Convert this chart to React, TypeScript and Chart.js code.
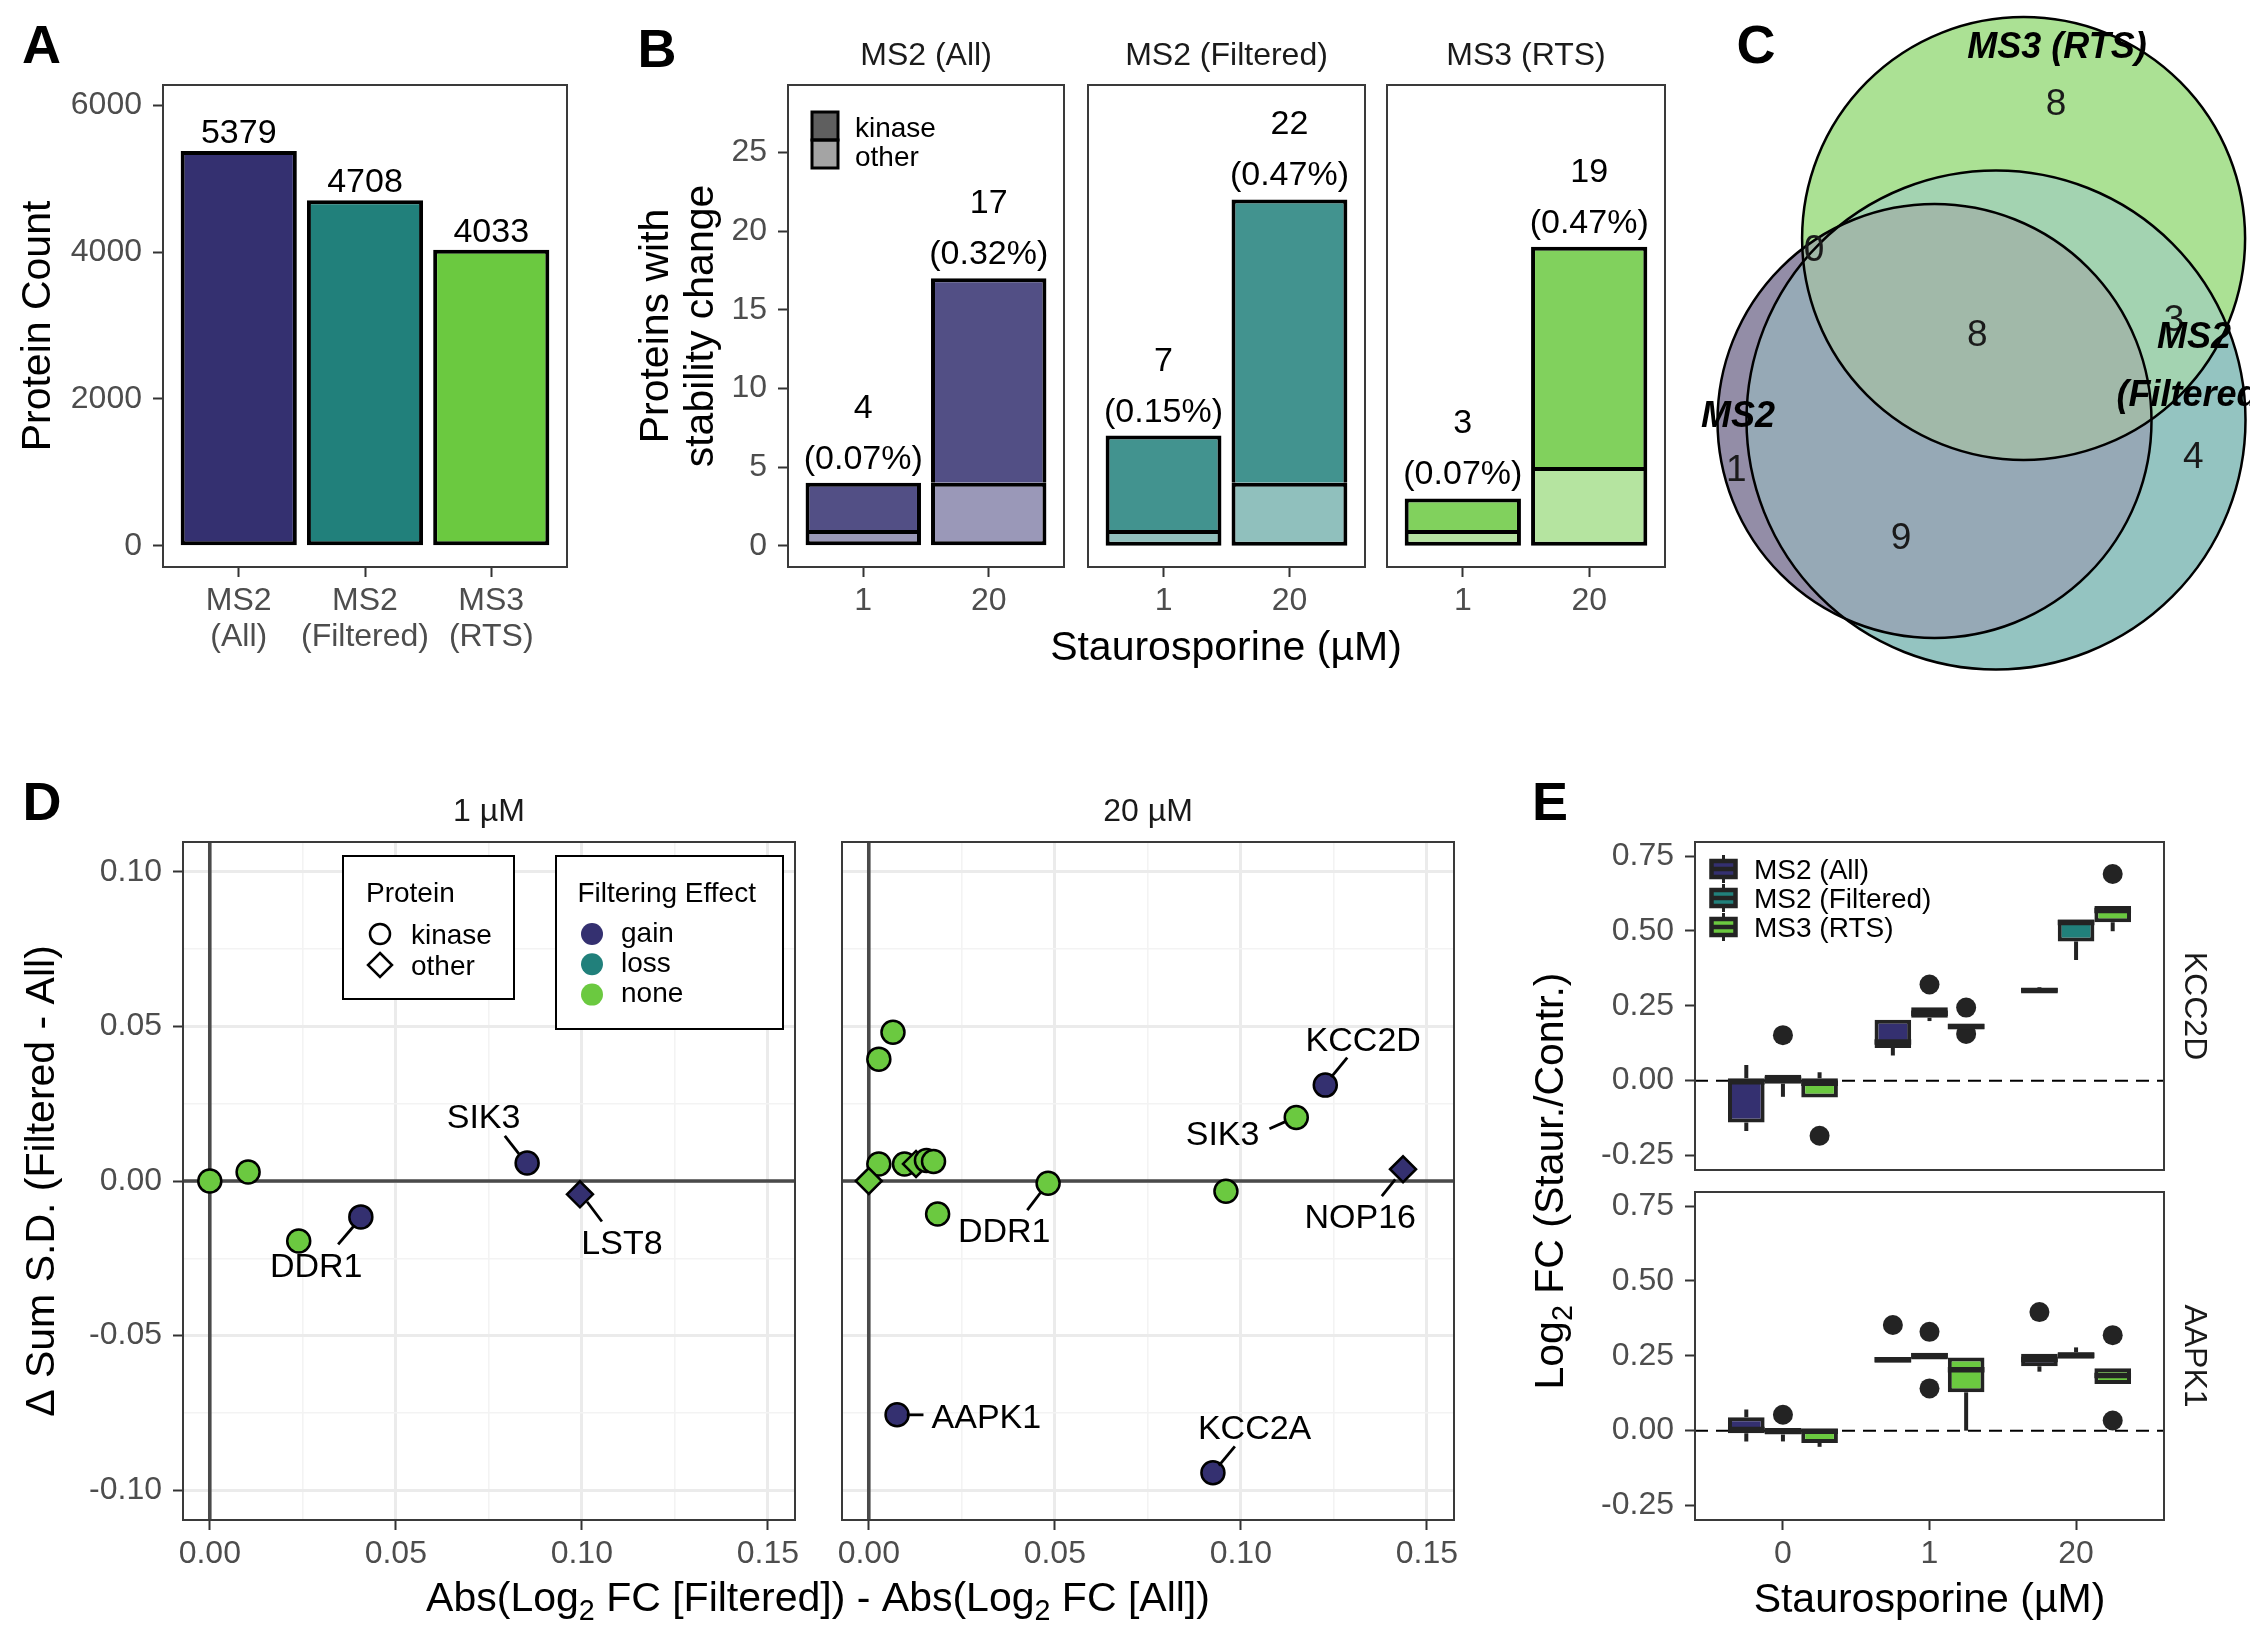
import { useEffect, useRef } from "react"
import { Chart, registerables } from "chart.js"

Chart.register(...registerables)

const FONT = "'Liberation Sans', Arial, Helvetica, sans-serif"
Chart.defaults.font.family = FONT
Chart.defaults.color = "#4d4d4d"

// colours per acquisition method (also used for gain / loss / none)
const methodColors = ["#343070", "#21807b", "#6bc940"]
const methodNames = ["MS2 (All)", "MS2 (Filtered)", "MS3 (RTS)"]

// ---- A: protein counts ----
const methodTicks = [["MS2", "(All)"], ["MS2", "(Filtered)"], ["MS3", "(RTS)"]]
const proteinCounts = [5379, 4708, 4033]
const countTicks = [0, 2000, 4000, 6000]

// ---- B: proteins with stability change ----
const doseLabels = ["1", "20"]
const kinaseAll = [3, 13]
const otherAll = [1, 4]
const kinaseFiltered = [6, 18]
const otherFiltered = [1, 4]
const kinaseRts = [2, 14]
const otherRts = [1, 5]
const pctAll = ["0.07%", "0.32%"]
const pctFiltered = ["0.15%", "0.47%"]
const pctRts = ["0.07%", "0.47%"]
const stabilityTicks = [0, 5, 10, 15, 20, 25]

// ---- C: venn (centres / radii in layout units, regions in drawing order) ----
const vennX = [0, 0.615, 0.891]
const vennY = [0, 0.01, 1.825]
const vennR = [2.17, 2.495, 2.215]
const vennRegionColors = ["#938da7", "#94c4c1", "#abe194", "#96a9b6", "#9fb2a2", "#a3d3b1", "#a1b9a9"]
const vennCounts = [8, 0, 8, 3, 1, 9, 4]
const vennCountX = [1.215, -1.205, 0.429, 2.395, -1.981, -0.335, 2.589]
const vennCountY = [3.19, 1.73, 0.88, 1.03, -0.473, -1.15, -0.34]
const vennLabels = ["MS3 (RTS)", "MS2", "MS2", "(Filtered)"]
const vennLabelX = [1.225, -1.965, 2.595, 2.591]
const vennLabelY = [3.755, 0.07, 0.86, 0.28]

// ---- D: filtering effect ----
const dXTicks = [0, 0.025, 0.05, 0.075, 0.1, 0.125, 0.15]
const dXTickLabels = ["0.00", "", "0.05", "", "0.10", "", "0.15"]
const dYTicks = [-0.1, -0.075, -0.05, -0.025, 0, 0.025, 0.05, 0.075, 0.1]
const dYTickLabels = ["-0.10", "", "-0.05", "", "0.00", "", "0.05", "", "0.10"]
const effectNames = ["gain", "loss", "none"]

const lowX = [0, 0.0103, 0.0239, 0.0406, 0.0853, 0.0995]
const lowY = [0, 0.0029, -0.0194, -0.0116, 0.0058, -0.0043]
const lowKind = ["kinase", "kinase", "kinase", "kinase", "kinase", "other"]
const lowEffect = ["none", "none", "none", "gain", "gain", "gain"]
const lowLabels = ["DDR1", "SIK3", "LST8"]
const lowLabelX = [0.0286, 0.0736, 0.1108]
const lowLabelY = [-0.0272, 0.0209, -0.0199]
const lowSegments = [
  [0.0345, -0.0205, 0.0389, -0.0143],
  [0.0793, 0.0146, 0.0831, 0.0088],
  [0.1014, -0.0067, 0.1054, -0.0131],
]

const highX = [0.0065, 0.0027, 0.0027, 0, 0.0096, 0.0127, 0.0155, 0.0174, 0.0185, 0.0482, 0.096, 0.1149, 0.1227, 0.1436, 0.0076, 0.0925]
const highY = [0.0481, 0.0394, 0.0055, 0, 0.0055, 0.0055, 0.0066, 0.0063, -0.0107, -0.0007, -0.0033, 0.0205, 0.031, 0.0038, -0.0756, -0.0943]
const highKind = ["kinase", "kinase", "kinase", "other", "kinase", "other", "kinase", "kinase", "kinase", "kinase", "kinase", "kinase", "kinase", "other", "kinase", "kinase"]
const highEffect = ["none", "none", "none", "none", "none", "none", "none", "none", "none", "none", "none", "none", "gain", "gain", "gain", "gain"]
const highLabels = ["KCC2D", "SIK3", "DDR1", "NOP16", "AAPK1", "KCC2A"]
const highLabelX = [0.1329, 0.0951, 0.0364, 0.1321, 0.0316, 0.1037]
const highLabelY = [0.046, 0.0156, -0.016, -0.0115, -0.076, -0.0796]
const highSegments = [
  [0.1286, 0.0399, 0.1243, 0.0336],
  [0.1077, 0.0169, 0.112, 0.0192],
  [0.0426, -0.0094, 0.0464, -0.0034],
  [0.1379, -0.0049, 0.1415, 0.0005],
  [0.0102, -0.0756, 0.0147, -0.0756],
  [0.0984, -0.0858, 0.0941, -0.092],
]

// ---- E: log2 FC boxplots, [lower whisker, Q1, median, Q3, upper whisker] per dose ----
const eDoseLabels = ["0", "1", "20"]
const eTicks = [-0.25, 0, 0.25, 0.5, 0.75]
const eTickLabels = ["-0.25", "0.00", "0.25", "0.50", "0.75"]
const kcc2dAll = [[-0.168, -0.14, -0.004, 0.008, 0.052], [0.084, 0.109, 0.129, 0.203, 0.203], [0.293, 0.295, 0.301, 0.309, 0.312]]
const kcc2dFiltered = [[-0.054, -0.01, 0.005, 0.02, 0.02], [0.199, 0.21, 0.225, 0.245, 0.245], [0.403, 0.465, 0.528, 0.538, 0.538]]
const kcc2dRts = [[-0.056, -0.056, -0.009, 0.008, 0.028], [0.172, 0.172, 0.181, 0.19, 0.19], [0.499, 0.529, 0.568, 0.583, 0.583]]
// [method, dose, value]
const kcc2dOutliers = [[1, 0, 0.152], [2, 0, -0.184], [1, 1, 0.321], [2, 1, 0.244], [2, 1, 0.156], [2, 2, 0.69]]
const aapk1All = [[-0.036, -0.009, 0.004, 0.045, 0.071], [0.228, 0.228, 0.237, 0.246, 0.246], [0.197, 0.215, 0.238, 0.257, 0.257]]
const aapk1Filtered = [[-0.036, -0.013, 0, 0.008, 0.008], [0.238, 0.238, 0.25, 0.26, 0.26], [0.24, 0.24, 0.252, 0.262, 0.278]]
const aapk1Rts = [[-0.054, -0.041, -0.002, 0.006, 0.006], [0, 0.128, 0.203, 0.244, 0.244], [0.156, 0.156, 0.184, 0.208, 0.208]]
const aapk1Outliers = [[1, 0, 0.053], [0, 1, 0.353], [1, 1, 0.33], [1, 1, 0.141], [0, 2, 0.396], [2, 2, 0.319], [2, 2, 0.034]]

// ---------------------------------------------------------------------------

type Box = { x: number; y: number; w: number; h: number }
type Area = { l: number; t: number; r: number; b: number }
type Part = { t: string; sub?: boolean }
type TextOpts = { size: number; weight?: string; style?: string; color?: string; align?: "left" | "center" | "right"; rotate?: number }

function drawText(ctx: CanvasRenderingContext2D, text: string | Part[], x: number, y: number, o: TextOpts) {
  const parts: Part[] = typeof text === "string" ? [{ t: text }] : text
  const fontFor = (p: Part) => `${o.style ?? "normal"} ${o.weight ?? "normal"} ${p.sub ? o.size * 0.7 : o.size}px ${FONT}`
  ctx.save()
  ctx.translate(x, y)
  if (o.rotate) ctx.rotate(o.rotate)
  ctx.fillStyle = o.color ?? "#000"
  ctx.textAlign = "left"
  ctx.textBaseline = "alphabetic"
  const widths = parts.map((p) => {
    ctx.font = fontFor(p)
    return ctx.measureText(p.t).width
  })
  const total = widths.reduce((a, b) => a + b, 0)
  let cx = o.align === "left" ? 0 : o.align === "right" ? -total : -total / 2
  const baseline = o.size * 0.35
  parts.forEach((p, i) => {
    ctx.font = fontFor(p)
    ctx.fillText(p.t, cx, p.sub ? baseline + o.size * 0.2 : baseline)
    cx += widths[i]
  })
  ctx.restore()
}

function tint(hex: string, a: number) {
  const n = parseInt(hex.slice(1), 16)
  const ch = [(n >> 16) & 255, (n >> 8) & 255, n & 255].map((v) => Math.round(v * a + 255 * (1 - a)))
  return `rgb(${ch.join(",")})`
}

// padding / axis sizes so that the plot area lands where it should on the page
function frameLayout(box: Box, area: Area, yAxis: boolean, xAxis: boolean) {
  return {
    padding: {
      left: yAxis ? 0 : area.l - box.x,
      top: area.t - box.y,
      right: box.x + box.w - area.r,
      bottom: xAxis ? 0 : box.y + box.h - area.b,
    },
    yWidth: area.l - box.x,
    xHeight: box.y + box.h - area.b,
  }
}

const base = {
  responsive: false,
  maintainAspectRatio: false,
  animation: false as const,
  devicePixelRatio: 1,
  events: [] as any[],
  plugins: { legend: { display: false }, tooltip: { enabled: false } },
}

const tickFont = { size: 32, lineHeight: 1.125 }

function indexAxis(min: number, max: number, ticks: number[], labels: any[], height: number, show = true) {
  return {
    type: "linear",
    min,
    max,
    offset: false,
    display: show,
    afterBuildTicks: (s: any) => {
      s.ticks = ticks.map((v) => ({ value: v }))
    },
    afterFit: (s: any) => {
      s.height = show ? height : 0
    },
    ticks: { autoSkip: false, maxRotation: 0, minRotation: 0, padding: 6, font: tickFont, color: "#4d4d4d", callback: (_v: any, i: number) => labels[i] },
    grid: { offset: false, drawOnChartArea: false, drawTicks: true, tickLength: 10, tickWidth: 2, tickColor: "#333333" },
    border: { display: false },
  }
}

function valueAxis(min: number, max: number, ticks: number[], labels: string[], width: number, show = true) {
  return {
    type: "linear",
    min,
    max,
    display: show,
    afterBuildTicks: (s: any) => {
      s.ticks = ticks.map((v) => ({ value: v }))
    },
    afterFit: (s: any) => {
      s.width = show ? width : 0
    },
    ticks: { autoSkip: false, padding: 11, font: tickFont, color: "#4d4d4d", callback: (_v: any, i: number) => labels[i] },
    grid: { drawOnChartArea: false, drawTicks: true, tickLength: 10, tickWidth: 2, tickColor: "#333333" },
    border: { display: false },
  }
}

const panelFrame = {
  id: "panelFrame",
  afterDatasetsDraw(chart: any) {
    const { ctx, chartArea: a } = chart
    ctx.save()
    ctx.strokeStyle = "#3a3a3a"
    ctx.lineWidth = 2
    ctx.strokeRect(a.left, a.top, a.right - a.left, a.bottom - a.top)
    ctx.restore()
  },
}

function pageLayer(id: string, box: Box, draw: (ctx: CanvasRenderingContext2D) => void) {
  return {
    id,
    afterDraw(chart: any) {
      const ctx = chart.ctx as CanvasRenderingContext2D
      ctx.save()
      ctx.translate(-box.x, -box.y)
      draw(ctx)
      ctx.restore()
    },
  }
}

// ---------------------------------------------------------------------------
// page boxes

const boxA: Box = { x: 0, y: 0, w: 600, h: 680 }
const areaA: Area = { l: 163, t: 85, r: 567, b: 567 }
const boxB1: Box = { x: 600, y: 0, w: 476, h: 680 }
const areaB1: Area = { l: 788, t: 85, r: 1064, b: 567 }
const boxB2: Box = { x: 1030, y: 0, w: 395, h: 680 }
const areaB2: Area = { l: 1088, t: 85, r: 1365, b: 567 }
const boxB3: Box = { x: 1376, y: 0, w: 314, h: 680 }
const areaB3: Area = { l: 1387, t: 85, r: 1665, b: 567 }
const boxC: Box = { x: 1680, y: 0, w: 570, h: 680 }
const boxD1: Box = { x: 0, y: 770, w: 820, h: 880 }
const areaD1: Area = { l: 183, t: 842, r: 795, b: 1520 }
const boxD2: Box = { x: 400, y: 770, w: 1080, h: 880 }
const areaD2: Area = { l: 842, t: 842, r: 1454, b: 1520 }
const boxE1: Box = { x: 1500, y: 770, w: 750, h: 450 }
const areaE1: Area = { l: 1695, t: 842, r: 2164, b: 1170 }
const boxE2: Box = { x: 1500, y: 770, w: 750, h: 880 }
const areaE2: Area = { l: 1695, t: 1192, r: 2164, b: 1520 }

// ---------------------------------------------------------------------------
// A

function buildA() {
  const L = frameLayout(boxA, areaA, true, true)
  const countLabels = {
    id: "countLabels",
    afterDatasetsDraw(chart: any) {
      const { ctx, scales } = chart
      proteinCounts.forEach((v, i) => {
        drawText(ctx, String(v), scales.x.getPixelForValue(i + 1), scales.y.getPixelForValue(v) - 20, { size: 34 })
      })
    },
  }
  const layer = pageLayer("layerA", boxA, (ctx) => {
    drawText(ctx, "A", 41.5, 44.5, { size: 54, weight: "bold" })
    drawText(ctx, "Protein Count", 36, 326, { size: 41, rotate: -Math.PI / 2 })
  })
  return {
    type: "bar",
    data: {
      datasets: [
        {
          data: proteinCounts.map((v, i) => ({ x: i + 1, y: v })),
          backgroundColor: methodColors,
          borderColor: "#000",
          borderWidth: 4,
          borderSkipped: false,
          barPercentage: 0.92,
          categoryPercentage: 1,
        },
      ],
    },
    options: {
      ...base,
      layout: { padding: L.padding, autoPadding: false },
      scales: {
        x: indexAxis(0.4, 3.6, [1, 2, 3], methodTicks, L.xHeight),
        y: valueAxis(-289, 6278, countTicks, countTicks.map(String), L.yWidth),
      },
    },
    plugins: [panelFrame, countLabels, layer],
  }
}

// ---------------------------------------------------------------------------
// B

function buildB(box: Box, area: Area, kinase: number[], other: number[], pct: string[], color: string, showY: boolean, layer: any) {
  const L = frameLayout(box, area, showY, true)
  const totals = {
    id: "stackTotals",
    afterDatasetsDraw(chart: any) {
      const { ctx, scales } = chart
      kinase.forEach((k, i) => {
        const total = k + other[i]
        const px = scales.x.getPixelForValue(i + 1)
        const top = scales.y.getPixelForValue(total)
        drawText(ctx, String(total), px, top - 77, { size: 34 })
        drawText(ctx, `(${pct[i]})`, px, top - 26, { size: 34 })
      })
    },
  }
  return {
    type: "bar",
    data: {
      datasets: [
        {
          data: other.map((v, i) => ({ x: i + 1, y: v })),
          backgroundColor: tint(color, 0.5),
          borderColor: "#000",
          borderWidth: 4,
          borderSkipped: false,
          barPercentage: 0.92,
          categoryPercentage: 1,
        },
        {
          data: kinase.map((v, i) => ({ x: i + 1, y: v })),
          backgroundColor: tint(color, 0.85),
          borderColor: "#000",
          borderWidth: 4,
          borderSkipped: "bottom",
          barPercentage: 0.92,
          categoryPercentage: 1,
        },
      ],
    },
    options: {
      ...base,
      layout: { padding: L.padding, autoPadding: false },
      scales: {
        x: { ...indexAxis(0.4, 2.6, [1, 2], doseLabels, L.xHeight), stacked: true },
        y: { ...valueAxis(-1.35, 29.28, stabilityTicks, stabilityTicks.map(String), L.yWidth, showY), stacked: true },
      },
    },
    plugins: [panelFrame, totals, layer],
  }
}

const layerB1 = pageLayer("layerB1", boxB1, (ctx) => {
  drawText(ctx, "B", 657, 48, { size: 54, weight: "bold" })
  drawText(ctx, "Proteins with", 654, 326, { size: 41, rotate: -Math.PI / 2 })
  drawText(ctx, "stability change", 699, 326, { size: 41, rotate: -Math.PI / 2 })
  drawText(ctx, methodNames[0], 926, 54, { size: 32, color: "#1a1a1a" })
  ctx.save()
  ctx.fillStyle = "#5f5f5f"
  ctx.fillRect(812, 112, 26, 28)
  ctx.fillStyle = "#a4a4a4"
  ctx.fillRect(812, 140, 26, 28)
  ctx.strokeStyle = "#000"
  ctx.lineWidth = 3
  ctx.strokeRect(812, 112, 26, 28)
  ctx.strokeRect(812, 140, 26, 28)
  ctx.restore()
  drawText(ctx, "kinase", 855, 127, { size: 28, align: "left" })
  drawText(ctx, "other", 855, 156, { size: 28, align: "left" })
})
const layerB2 = pageLayer("layerB2", boxB2, (ctx) => {
  drawText(ctx, methodNames[1], 1226.5, 54, { size: 32, color: "#1a1a1a" })
  drawText(ctx, "Staurosporine (µM)", 1226, 646, { size: 41 })
})
const layerB3 = pageLayer("layerB3", boxB3, (ctx) => {
  drawText(ctx, methodNames[2], 1526, 54, { size: 32, color: "#1a1a1a" })
})

// ---------------------------------------------------------------------------
// C

function unitsToPx(chart: any, r: number) {
  const x = chart.scales.x
  const px = Math.abs(x.getPixelForValue(r) - x.getPixelForValue(0))
  return Number.isFinite(px) ? px : 0
}

function buildC() {
  const vennFill = {
    id: "vennFill",
    beforeDatasetsDraw(chart: any) {
      const { ctx, scales } = chart
      const cx = vennX.map((v) => scales.x.getPixelForValue(v))
      const cy = vennY.map((v) => scales.y.getPixelForValue(v))
      const r = vennR.map((v) => unitsToPx(chart, v))
      const path = (i: number) => {
        ctx.beginPath()
        ctx.arc(cx[i], cy[i], r[i], 0, Math.PI * 2)
      }
      const fill = (i: number, color: string) => {
        path(i)
        ctx.fillStyle = color
        ctx.fill()
      }
      const within = (clips: number[], i: number, color: string) => {
        ctx.save()
        clips.forEach((c) => {
          path(c)
          ctx.clip()
        })
        fill(i, color)
        ctx.restore()
      }
      fill(0, vennRegionColors[0])
      fill(1, vennRegionColors[1])
      fill(2, vennRegionColors[2])
      within([0], 1, vennRegionColors[3])
      within([0], 2, vennRegionColors[4])
      within([1], 2, vennRegionColors[5])
      within([0, 1], 2, vennRegionColors[6])
    },
  }
  const vennText = {
    id: "vennText",
    afterDatasetsDraw(chart: any) {
      const { ctx, scales } = chart
      vennCounts.forEach((n, i) => {
        drawText(ctx, String(n), scales.x.getPixelForValue(vennCountX[i]), scales.y.getPixelForValue(vennCountY[i]), { size: 37, color: "#1a1a1a" })
      })
      vennLabels.forEach((t, i) => {
        drawText(ctx, t, scales.x.getPixelForValue(vennLabelX[i]), scales.y.getPixelForValue(vennLabelY[i]), { size: 36, weight: "bold", style: "italic" })
      })
    },
  }
  const layer = pageLayer("layerC", boxC, (ctx) => {
    drawText(ctx, "C", 1756, 44.5, { size: 54, weight: "bold" })
  })
  return {
    type: "scatter",
    data: {
      datasets: [
        {
          // circle outlines; the radius is read through the x scale
          data: vennX.map((x, i) => ({ x, y: vennY[i] })),
          pointRadius: (c: any) => unitsToPx(c.chart, vennR[c.dataIndex]),
          pointBackgroundColor: "rgba(0,0,0,0)",
          pointBorderColor: "#000",
          pointBorderWidth: 2.5,
          clip: false,
        },
      ],
    },
    options: {
      ...base,
      layout: { padding: 0, autoPadding: false },
      scales: {
        x: { type: "linear", display: false, min: -2.545, max: 3.155 },
        y: { type: "linear", display: false, min: -2.59, max: 4.21 },
      },
    },
    plugins: [vennFill, vennText, layer],
  }
}

// ---------------------------------------------------------------------------
// D

function gridStyle(labels: string[], ticks: boolean) {
  return {
    drawOnChartArea: true,
    drawTicks: ticks,
    tickLength: 10,
    tickWidth: 2,
    color: (c: any) => (labels[c.index] ? "#ebebeb" : "#f3f3f3"),
    lineWidth: (c: any) => (labels[c.index] ? 3 : 1.6),
    tickColor: (c: any) => (labels[c.index] ? "#333333" : "rgba(0,0,0,0)"),
  }
}

const zeroLines = {
  id: "zeroLines",
  beforeDatasetsDraw(chart: any) {
    const { ctx, chartArea: a, scales } = chart
    const x0 = scales.x.getPixelForValue(0)
    const y0 = scales.y.getPixelForValue(0)
    ctx.save()
    ctx.strokeStyle = "#4a4a4a"
    ctx.lineWidth = 3.6
    ctx.beginPath()
    ctx.moveTo(x0, a.top)
    ctx.lineTo(x0, a.bottom)
    ctx.moveTo(a.left, y0)
    ctx.lineTo(a.right, y0)
    ctx.stroke()
    ctx.restore()
  },
}

function repelLabels(names: string[], lx: number[], ly: number[], segs: number[][]) {
  return {
    id: "repelLabels",
    afterDatasetsDraw(chart: any) {
      const { ctx, scales } = chart
      ctx.save()
      ctx.strokeStyle = "#000"
      ctx.lineWidth = 2.8
      segs.forEach(([x1, y1, x2, y2]) => {
        ctx.beginPath()
        ctx.moveTo(scales.x.getPixelForValue(x1), scales.y.getPixelForValue(y1))
        ctx.lineTo(scales.x.getPixelForValue(x2), scales.y.getPixelForValue(y2))
        ctx.stroke()
      })
      ctx.restore()
      names.forEach((n, i) => {
        drawText(ctx, n, scales.x.getPixelForValue(lx[i]), scales.y.getPixelForValue(ly[i]), { size: 34 })
      })
    },
  }
}

function buildD(box: Box, area: Area, xs: number[], ys: number[], kinds: string[], effects: string[], labels: any, showY: boolean, layer: any) {
  const L = frameLayout(box, area, showY, true)
  return {
    type: "scatter",
    data: {
      datasets: [
        {
          data: xs.map((x, i) => ({ x, y: ys[i] })),
          pointStyle: kinds.map((k) => (k === "other" ? "rectRot" : "circle")),
          pointRadius: kinds.map((k) => (k === "other" ? 13 : 11.5)),
          pointBackgroundColor: effects.map((e) => methodColors[effectNames.indexOf(e)]),
          pointBorderColor: "#000",
          pointBorderWidth: 2.5,
          clip: false,
        },
      ],
    },
    options: {
      ...base,
      layout: { padding: L.padding, autoPadding: false },
      scales: {
        x: {
          type: "linear",
          min: -0.0072,
          max: 0.1573,
          afterBuildTicks: (s: any) => {
            s.ticks = dXTicks.map((v) => ({ value: v }))
          },
          afterFit: (s: any) => {
            s.height = L.xHeight
          },
          ticks: { autoSkip: false, maxRotation: 0, minRotation: 0, padding: 6, font: tickFont, color: "#4d4d4d", callback: (_v: any, i: number) => dXTickLabels[i] },
          grid: gridStyle(dXTickLabels, true),
          border: { display: false },
        },
        y: {
          type: "linear",
          min: -0.1096,
          max: 0.1096,
          afterBuildTicks: (s: any) => {
            s.ticks = dYTicks.map((v) => ({ value: v }))
          },
          afterFit: (s: any) => {
            s.width = showY ? L.yWidth : 0
          },
          ticks: { display: showY, autoSkip: false, padding: 11, font: tickFont, color: "#4d4d4d", callback: (_v: any, i: number) => dYTickLabels[i] },
          grid: gridStyle(dYTickLabels, showY),
          border: { display: false },
        },
      },
    },
    plugins: [zeroLines, panelFrame, repelLabels(labels.names, labels.x, labels.y, labels.segs), layer],
  }
}

const layerD1 = pageLayer("layerD1", boxD1, (ctx) => {
  drawText(ctx, "D", 42, 801, { size: 54, weight: "bold" })
  drawText(ctx, "1 µM", 489, 810, { size: 32, color: "#1a1a1a" })
  drawText(ctx, "Δ Sum S.D. (Filtered - All)", 40, 1181, { size: 41, rotate: -Math.PI / 2 })
  ctx.save()
  ctx.fillStyle = "#fff"
  ctx.strokeStyle = "#000"
  ctx.lineWidth = 2
  ctx.fillRect(343, 856, 171, 143)
  ctx.strokeRect(343, 856, 171, 143)
  ctx.fillRect(556, 856, 227, 173)
  ctx.strokeRect(556, 856, 227, 173)
  ctx.lineWidth = 2.5
  ctx.beginPath()
  ctx.arc(380, 934, 10, 0, Math.PI * 2)
  ctx.stroke()
  ctx.beginPath()
  ctx.moveTo(380, 953)
  ctx.lineTo(392, 965)
  ctx.lineTo(380, 977)
  ctx.lineTo(368, 965)
  ctx.closePath()
  ctx.stroke()
  effectNames.forEach((_e, i) => {
    ctx.beginPath()
    ctx.arc(592, 934 + i * 30.3, 11, 0, Math.PI * 2)
    ctx.fillStyle = methodColors[i]
    ctx.fill()
  })
  ctx.restore()
  drawText(ctx, "Protein", 366, 892, { size: 28, align: "left" })
  drawText(ctx, "kinase", 411, 934, { size: 28, align: "left" })
  drawText(ctx, "other", 411, 965, { size: 28, align: "left" })
  drawText(ctx, "Filtering Effect", 577.5, 892, { size: 28, align: "left" })
  effectNames.forEach((e, i) => drawText(ctx, e, 621, 932 + i * 30.3, { size: 28, align: "left" }))
})

const layerD2 = pageLayer("layerD2", boxD2, (ctx) => {
  drawText(ctx, "20 µM", 1148, 810, { size: 32, color: "#1a1a1a" })
  drawText(
    ctx,
    [{ t: "Abs(Log" }, { t: "2", sub: true }, { t: " FC [Filtered]) - Abs(Log" }, { t: "2", sub: true }, { t: " FC [All])" }],
    818,
    1597,
    { size: 41 },
  )
})

// ---------------------------------------------------------------------------
// E

function buildE(box: Box, area: Area, stats: number[][][], outliers: number[][], showX: boolean, layer: any) {
  const L = frameLayout(box, area, true, showX)
  const boxParts = {
    id: "boxParts",
    beforeDatasetsDraw(chart: any) {
      const { ctx, chartArea: a, scales } = chart
      const y0 = scales.y.getPixelForValue(0)
      ctx.save()
      ctx.strokeStyle = "#000"
      ctx.lineWidth = 2
      ctx.setLineDash([13, 8])
      ctx.beginPath()
      ctx.moveTo(a.left, y0)
      ctx.lineTo(a.right, y0)
      ctx.stroke()
      ctx.setLineDash([])
      ctx.strokeStyle = "#232323"
      ctx.lineWidth = 4
      stats.forEach((s, m) => {
        const meta = chart.getDatasetMeta(m)
        s.forEach((q, d) => {
          const el = meta.data[d]
          ctx.beginPath()
          ctx.moveTo(el.x, scales.y.getPixelForValue(q[0]))
          ctx.lineTo(el.x, scales.y.getPixelForValue(q[1]))
          ctx.moveTo(el.x, scales.y.getPixelForValue(q[3]))
          ctx.lineTo(el.x, scales.y.getPixelForValue(q[4]))
          ctx.stroke()
        })
      })
      ctx.restore()
    },
    afterDatasetsDraw(chart: any) {
      const { ctx, scales } = chart
      ctx.save()
      ctx.strokeStyle = "#232323"
      ctx.lineWidth = 5.5
      stats.forEach((s, m) => {
        const meta = chart.getDatasetMeta(m)
        s.forEach((q, d) => {
          const el = meta.data[d]
          const py = scales.y.getPixelForValue(q[2])
          ctx.beginPath()
          ctx.moveTo(el.x - el.width / 2, py)
          ctx.lineTo(el.x + el.width / 2, py)
          ctx.stroke()
        })
      })
      ctx.restore()
    },
  }
  return {
    type: "bar",
    data: {
      datasets: [
        ...stats.map((s, m) => ({
          type: "bar",
          data: s.map((q, d) => ({ x: d, y: [q[1], q[3]] })),
          backgroundColor: methodColors[m],
          borderColor: "#232323",
          borderWidth: 4,
          borderSkipped: false,
          categoryPercentage: 0.75,
          barPercentage: 1,
          order: 1,
        })),
        {
          type: "scatter",
          data: outliers.map(([m, d, v]) => ({ x: d + (m - 1) * 0.25, y: v })),
          pointRadius: 10,
          pointBackgroundColor: "#232323",
          pointBorderWidth: 0,
          order: 2,
        },
      ],
    },
    options: {
      ...base,
      layout: { padding: L.padding, autoPadding: false },
      scales: {
        x: indexAxis(-0.6, 2.6, [0, 1, 2], eDoseLabels, L.xHeight, showX),
        y: valueAxis(-0.2984, 0.797, eTicks, eTickLabels, L.yWidth),
      },
    },
    plugins: [boxParts, panelFrame, layer],
  }
}

function boxKey(ctx: CanvasRenderingContext2D, cx: number, cy: number, color: string) {
  ctx.save()
  ctx.strokeStyle = "#232323"
  ctx.lineWidth = 3
  ctx.beginPath()
  ctx.moveTo(cx, cy - 14)
  ctx.lineTo(cx, cy + 14)
  ctx.stroke()
  ctx.fillStyle = color
  ctx.fillRect(cx - 12, cy - 8, 24, 16)
  ctx.lineWidth = 4.5
  ctx.strokeRect(cx - 12, cy - 8, 24, 16)
  ctx.beginPath()
  ctx.moveTo(cx - 12, cy)
  ctx.lineTo(cx + 12, cy)
  ctx.stroke()
  ctx.restore()
}

const layerE1 = pageLayer("layerE1", boxE1, (ctx) => {
  drawText(ctx, "KCC2D", 2196, 1006, { size: 32, color: "#1a1a1a", rotate: Math.PI / 2 })
  methodNames.forEach((n, i) => {
    boxKey(ctx, 1723.5, 869 + i * 29, methodColors[i])
    drawText(ctx, n, 1754, 869 + i * 29, { size: 28, align: "left" })
  })
})

const layerE2 = pageLayer("layerE2", boxE2, (ctx) => {
  drawText(ctx, "E", 1550, 801, { size: 54, weight: "bold" })
  drawText(ctx, "AAPK1", 2196, 1356, { size: 32, color: "#1a1a1a", rotate: Math.PI / 2 })
  drawText(ctx, [{ t: "Log" }, { t: "2", sub: true }, { t: " FC (Staur./Contr.)" }], 1549, 1181, { size: 41, rotate: -Math.PI / 2 })
  drawText(ctx, "Staurosporine (µM)", 1929.5, 1598, { size: 41 })
})

// ---------------------------------------------------------------------------

function ChartCanvas({ box, build }: { box: Box; build: () => any }) {
  const ref = useRef<HTMLCanvasElement>(null)

  useEffect(() => {
    if (!ref.current) return
    const chart = new Chart(ref.current, build())
    return () => {
      chart.destroy()
    }
  }, [])

  return (
    <canvas
      ref={ref}
      width={box.w}
      height={box.h}
      style={{ position: "absolute", left: box.x, top: box.y, width: box.w, height: box.h }}
    />
  )
}

export default function App() {
  return (
    <div style={{ position: "absolute", left: 0, top: 0, width: 2250, height: 1650, background: "#fff", overflow: "hidden" }}>
      <ChartCanvas box={boxA} build={buildA} />
      <ChartCanvas box={boxB1} build={() => buildB(boxB1, areaB1, kinaseAll, otherAll, pctAll, methodColors[0], true, layerB1)} />
      <ChartCanvas box={boxB3} build={() => buildB(boxB3, areaB3, kinaseRts, otherRts, pctRts, methodColors[2], false, layerB3)} />
      <ChartCanvas box={boxB2} build={() => buildB(boxB2, areaB2, kinaseFiltered, otherFiltered, pctFiltered, methodColors[1], false, layerB2)} />
      <ChartCanvas box={boxC} build={buildC} />
      <ChartCanvas
        box={boxD1}
        build={() => buildD(boxD1, areaD1, lowX, lowY, lowKind, lowEffect, { names: lowLabels, x: lowLabelX, y: lowLabelY, segs: lowSegments }, true, layerD1)}
      />
      <ChartCanvas
        box={boxD2}
        build={() => buildD(boxD2, areaD2, highX, highY, highKind, highEffect, { names: highLabels, x: highLabelX, y: highLabelY, segs: highSegments }, false, layerD2)}
      />
      <ChartCanvas box={boxE1} build={() => buildE(boxE1, areaE1, [kcc2dAll, kcc2dFiltered, kcc2dRts], kcc2dOutliers, false, layerE1)} />
      <ChartCanvas box={boxE2} build={() => buildE(boxE2, areaE2, [aapk1All, aapk1Filtered, aapk1Rts], aapk1Outliers, true, layerE2)} />
    </div>
  )
}
